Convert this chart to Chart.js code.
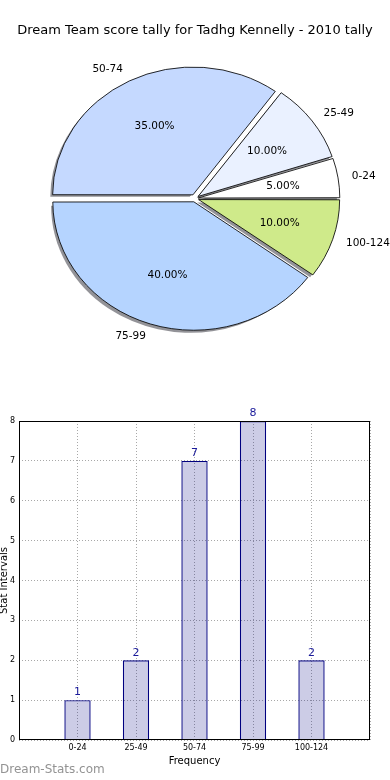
<!DOCTYPE html>
<html>
<head>
<meta charset="utf-8">
<script src="https://cdn.jsdelivr.net/npm/chart.js@4.4.1/dist/chart.umd.min.js"></script>
<style>
  body { margin: 0; background: #fff; width: 390px; height: 780px; position: relative; overflow: hidden; }
  #pieBox { position: absolute; left: 0; top: 0; }
  #barBox { position: absolute; left: 0; top: 400px; }
</style>
</head>
<body>
<div id="pieBox"><canvas id="pieChart" width="390" height="400"></canvas></div>
<div id="barBox"><canvas id="barChart" width="390" height="380"></canvas></div>
<script>
var chartTitle = 'Dream Team score tally for Tadhg Kennelly - 2010 tally';
var categories = ['0-24', '25-49', '50-74', '75-99', '100-124'];
var counts = [1, 2, 7, 8, 2];
var pieColors = ['#ffffff', '#eaf1ff', '#c5d9ff', '#b5d4ff', '#cfea8a'];
var yTicks = [0, 1, 2, 3, 4, 5, 6, 7, 8];

Chart.defaults.font.family = '"DejaVu Sans", sans-serif';
Chart.defaults.color = '#000';

// pie goes counter-clockwise from 3 o'clock like the original, so reverse it
var pieLabels = categories.slice().reverse();
var pieValues = counts.slice().reverse();
var pieBg = pieColors.slice().reverse();
var total = counts.reduce(function(a, b) { return a + b; }, 0);

var EXPLODE = 4.9;   // px each slice moves out
var STRETCH = 1.098; // pie is a bit wider than tall

function stretch(ctx, cx) {
    ctx.translate(cx, 0);
    ctx.scale(STRETCH, 1);
    ctx.translate(-cx, 0);
}

var piePlugin = {
    id: 'piePlugin',
    beforeDatasetsDraw: function(chart) {
        var ctx = chart.ctx;
        var cx = (chart.chartArea.left + chart.chartArea.right) / 2;
        var meta = chart.getDatasetMeta(0);
        // shadows first, under every slice
        ctx.save();
        ctx.translate(-2.8, 2.6);
        stretch(ctx, cx);
        ctx.fillStyle = 'rgba(40,40,50,0.5)';
        meta.data.forEach(function(arc) {
            var p = arc.getProps(['x', 'y', 'startAngle', 'endAngle', 'outerRadius'], true);
            var mid = (p.startAngle + p.endAngle) / 2;
            var bx = p.x + EXPLODE * Math.cos(mid), by = p.y + EXPLODE * Math.sin(mid);
            ctx.beginPath();
            ctx.moveTo(bx, by);
            ctx.arc(bx, by, p.outerRadius, p.startAngle, p.endAngle);
            ctx.closePath();
            ctx.fill();
        });
        ctx.restore();
        ctx.save();
        stretch(ctx, cx);
    },
    afterDatasetsDraw: function(chart) {
        var ctx = chart.ctx;
        ctx.restore();
        var meta = chart.getDatasetMeta(0);
        ctx.save();
        ctx.font = '10.5px "DejaVu Sans"';
        ctx.fillStyle = '#000';
        ctx.textBaseline = 'middle';
        meta.data.forEach(function(arc, i) {
            var p = arc.getProps(['x', 'y', 'startAngle', 'endAngle', 'outerRadius'], true);
            var mid = (p.startAngle + p.endAngle) / 2;
            var c = Math.cos(mid), s = Math.sin(mid);
            var bx = p.x + EXPLODE * c, by = p.y + EXPLODE * s;
            function px(k) { return p.x + (bx + k * p.outerRadius * c - p.x) * STRETCH; }
            ctx.textAlign = 'center';
            ctx.fillText((pieValues[i] / total * 100).toFixed(2) + '%', px(0.6), by + 0.6 * p.outerRadius * s);
            ctx.textAlign = c > 0 ? 'left' : 'right';
            ctx.fillText(pieLabels[i], px(1.1), by + 1.1 * p.outerRadius * s);
        });
        ctx.restore();
    }
};

new Chart(document.getElementById('pieChart'), {
    type: 'pie',
    data: {
        labels: pieLabels,
        datasets: [{
            data: pieValues,
            backgroundColor: pieBg,
            borderColor: '#000',
            borderWidth: 0.8,
            // chart.js moves an arc by offset/4 * (2 - sin(circ)), undo that so all move the same
            offset: function(c) {
                var circ = c.parsed / total * Math.PI * 2;
                return EXPLODE * 4 / (2 - Math.sin(Math.min(Math.PI, circ)));
            }
        }]
    },
    options: {
        responsive: false,
        animation: false,
        rotation: 90,
        radius: 127,
        layout: { padding: { left: 0, right: 0, top: 0, bottom: 41.6 } },
        events: [],
        plugins: {
            legend: { display: false },
            tooltip: { enabled: false },
            title: {
                display: true,
                text: chartTitle,
                color: '#000',
                font: { size: 13, weight: 'normal' },
                padding: { top: 23, bottom: 0 }
            }
        }
    },
    plugins: [piePlugin]
});

var barLabels = [''].concat(categories, ['']);
var barData = [null].concat(counts, [null]);

var barPlugin = {
    id: 'barPlugin',
    afterDraw: function(chart) {
        var ctx = chart.ctx;
        var a = chart.chartArea;
        ctx.save();
        ctx.strokeStyle = '#000';
        ctx.lineWidth = 1;
        ctx.strokeRect(Math.round(a.left) + 0.5, Math.round(a.top) + 0.5,
            Math.round(a.right - a.left) - 1, Math.round(a.bottom - a.top) - 1);
        var meta = chart.getDatasetMeta(0);
        ctx.font = '11px "DejaVu Sans"';
        ctx.fillStyle = '#1a1a9a';
        ctx.textAlign = 'center';
        ctx.textBaseline = 'bottom';
        meta.data.forEach(function(bar, i) {
            if (barData[i] == null) return;
            ctx.fillText(String(barData[i]), bar.x, bar.y - 2);
        });
        ctx.font = '12px "DejaVu Sans"';
        ctx.fillStyle = '#939393';
        ctx.textAlign = 'left';
        ctx.textBaseline = 'middle';
        ctx.fillText('Dream-Stats.com', 0, 370);
        ctx.restore();
    }
};

var dotGrid = {
    color: '#a8a8a8',
    lineWidth: 1,
    drawTicks: false
};

new Chart(document.getElementById('barChart'), {
    type: 'bar',
    data: {
        labels: barLabels,
        datasets: [{
            data: barData,
            backgroundColor: 'rgba(0,0,128,0.2)',
            borderColor: '#000080',
            borderWidth: 1.2,
            barPercentage: 0.45,
            categoryPercentage: 1
        }]
    },
    options: {
        responsive: false,
        animation: false,
        events: [],
        layout: { padding: { left: 0, right: 20, top: 21, bottom: 0 } },
        plugins: {
            legend: { display: false },
            tooltip: { enabled: false }
        },
        scales: {
            x: {
                offset: false,
                grid: Object.assign({ offset: false }, dotGrid),
                border: { display: false, dash: [1, 2] },
                ticks: { font: { size: 8 }, padding: 3, maxRotation: 0, autoSkip: false },
                title: { display: true, text: 'Frequency', font: { size: 10 }, padding: { top: 0, bottom: 13 } },
                afterFit: function(s) { s.height = 40; }
            },
            y: {
                min: yTicks[0],
                max: yTicks[yTicks.length - 1],
                grid: dotGrid,
                border: { display: false, dash: [1, 2] },
                afterBuildTicks: function(s) { s.ticks = yTicks.map(function(v) { return { value: v }; }); },
                ticks: { font: { size: 8 }, padding: 4 },
                title: { display: true, text: 'Stat Intervals', font: { size: 10 }, padding: { top: -2, bottom: 0 } },
                afterFit: function(s) { s.width = 19; }
            }
        }
    },
    plugins: [barPlugin]
});
</script>
</body>
</html>
